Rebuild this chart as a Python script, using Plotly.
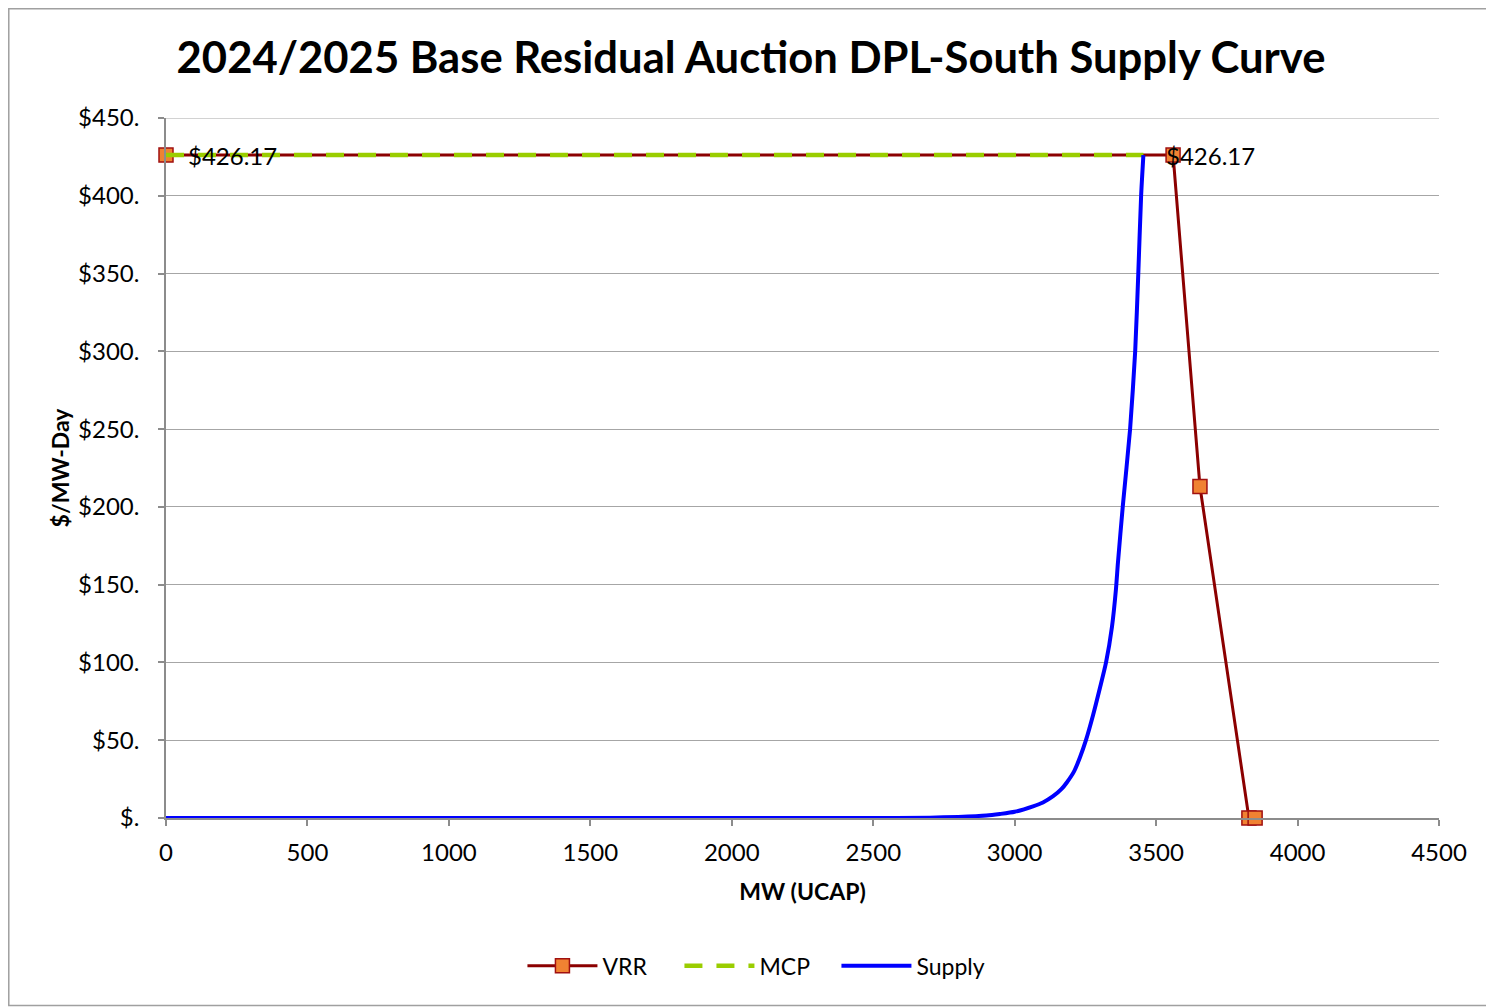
import plotly.graph_objects as go

# ---- data ----
vrr_x = [0, 3560, 3655, 3828, 3850]
vrr_y = [426.17, 426.17, 213.09, 0, 0]
vrr_labels = ["$426.17", "$426.17", "", "", ""]

mcp_x = [0, 3455]
mcp_y = [426.17, 426.17]

supply_x = [0, 2500, 2700, 2800, 2900, 2948, 3000, 3065, 3100, 3136, 3165, 3185, 3210, 3231,
            3252, 3277, 3302, 3323, 3344, 3358, 3365, 3382, 3408, 3426, 3437, 3447, 3455]
supply_y = [0, 0, 0.2, 0.7, 1.6, 2.6, 4, 7.5, 10, 14, 18.5, 23, 30, 39,
            50, 66, 84, 100, 123, 147, 164, 200, 250, 300, 350, 400, 426.17]

y_ticks = [0, 50, 100, 150, 200, 250, 300, 350, 400, 450]
y_ticktext = ["$.", "$50.", "$100.", "$150.", "$200.", "$250.", "$300.", "$350.", "$400.", "$450."]
x_ticks = [0, 500, 1000, 1500, 2000, 2500, 3000, 3500, 4000, 4500]

FONT = "Lato, 'Open Sans', sans-serif"

fig = go.Figure()
fig.add_trace(go.Scatter(
    x=vrr_x, y=vrr_y, name="VRR", mode="lines+markers", cliponaxis=False,
    line=dict(color="#8B0000", width=3),
    marker=dict(symbol="square", size=14, color="#F08232",
                line=dict(color="#A01010", width=1.5)),
))
fig.add_trace(go.Scatter(
    x=mcp_x, y=mcp_y, name="MCP", mode="lines", cliponaxis=False,
    line=dict(color="#9ACD00", width=4.5, dash="18px,14px"),
))
fig.add_trace(go.Scatter(
    x=supply_x, y=supply_y, name="Supply", mode="lines", cliponaxis=False,
    line=dict(color="#0000FF", width=4, shape="spline", smoothing=0.6),
))

annotations = []
shifts = [20, -9]
for i, t in enumerate(vrr_labels):
    if t:
        annotations.append(dict(
            x=vrr_x[i], y=vrr_y[i], text=t, showarrow=False,
            xanchor="left", yanchor="middle", xshift=shifts[i], yshift=0,
            font=dict(size=24, color="#000000", family=FONT)))

fig.update_layout(
    width=1486, height=999,
    margin=dict(l=158, r=55, t=110, b=189),
    paper_bgcolor="white", plot_bgcolor="white",
    font=dict(family=FONT, color="#000000", size=23),
    title=dict(text="<b>2024/2025 Base Residual Auction DPL-South Supply Curve</b>",
               x=0.5, xanchor="center", y=0.95, yanchor="middle",
               font=dict(size=43.6, family=FONT, color="#000000")),
    showlegend=True,
    legend=dict(orientation="h", x=0.28, xanchor="left", y=-0.211, yanchor="middle",
                font=dict(size=23, family=FONT), itemwidth=70, entrywidth=72,
                traceorder="normal"),
    annotations=annotations,
    shapes=[dict(type="rect", xref="paper", yref="paper",
                 x0=-0.1235, x1=1.06, y0=-0.2679, y1=1.1561,
                 line=dict(color="#A0A0A0", width=1.5), layer="below"),
            dict(type="line", xref="paper", yref="y", x0=0, x1=1,
                 y0=y_ticks[-1], y1=y_ticks[-1],
                 line=dict(color="#A6A6A6", width=1.2), layer="below")],
)

fig.update_xaxes(
    range=[0, 4500], tickvals=x_ticks, ticktext=[str(v) for v in x_ticks],
    showgrid=False, zeroline=False, showline=True, linecolor="#8C8C8C", linewidth=1.5,
    ticks="outside", ticklen=6, tickcolor="#8C8C8C", tickwidth=1.5,
    tickfont=dict(size=24, family=FONT), ticklabelstandoff=6,
    title=dict(text="<b>MW (UCAP)</b>", font=dict(size=23, family=FONT), standoff=19),
)
fig.update_yaxes(
    range=[0, 450], tickvals=y_ticks, ticktext=y_ticktext,
    showgrid=True, gridcolor="#A6A6A6", gridwidth=1.2, zeroline=False,
    showline=True, linecolor="#8C8C8C", linewidth=1.5,
    ticks="outside", ticklen=6, tickcolor="#8C8C8C", tickwidth=1.5,
    tickfont=dict(size=24, family=FONT), ticklabelstandoff=14,
    title=dict(text="<b>$/MW-Day</b>", font=dict(size=23, family=FONT), standoff=2),
)

fig.write_html("out.html")
